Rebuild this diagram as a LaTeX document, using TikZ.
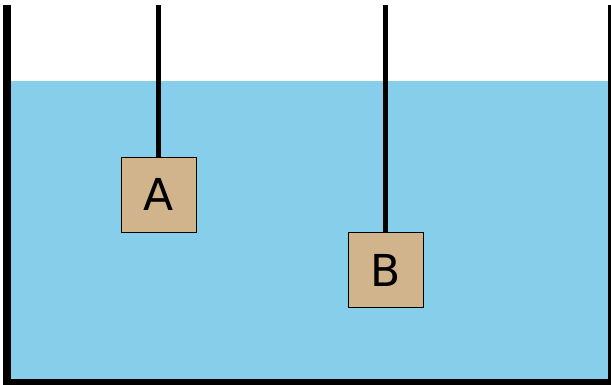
\documentclass[tikz,border=0pt]{standalone}
\usepackage{fontspec}
\setmainfont{DejaVu Sans}
\usetikzlibrary{positioning}

\definecolor{waterblue}{HTML}{87CEEB}
\definecolor{blocktan}{HTML}{D2B48C}

\begin{document}
\begin{tikzpicture}[
x=1pt,
y=-1pt,
block/.style={
  draw,
  fill=blocktan,
  line width=1pt,
  minimum size=75pt,
  inner sep=0pt,
  font=\fontsize{44}{44}\selectfont
  },
wall/.style={
  line width=8pt
  },
thread/.style={
  line width=5.5pt
  }
]
\useasboundingbox (0,0) rectangle (611,384);
% water and vessel
\fill[waterblue] (11,81) rectangle (608,379);
\draw[wall] (7,5) |- (612,383) -- (612,5);
% blocks hanging on threads
\node[block] (A) at (158.5,194.5) {A};
\node[block] (B) at (385.5,270) {B};
\coordinate (topA) at (158.5,5);
\coordinate (topB) at (385.5,5);
\draw[thread] (topA) -- (A.north);
\draw[thread] (topB) -- (B.north);
\end{tikzpicture}
\end{document}
